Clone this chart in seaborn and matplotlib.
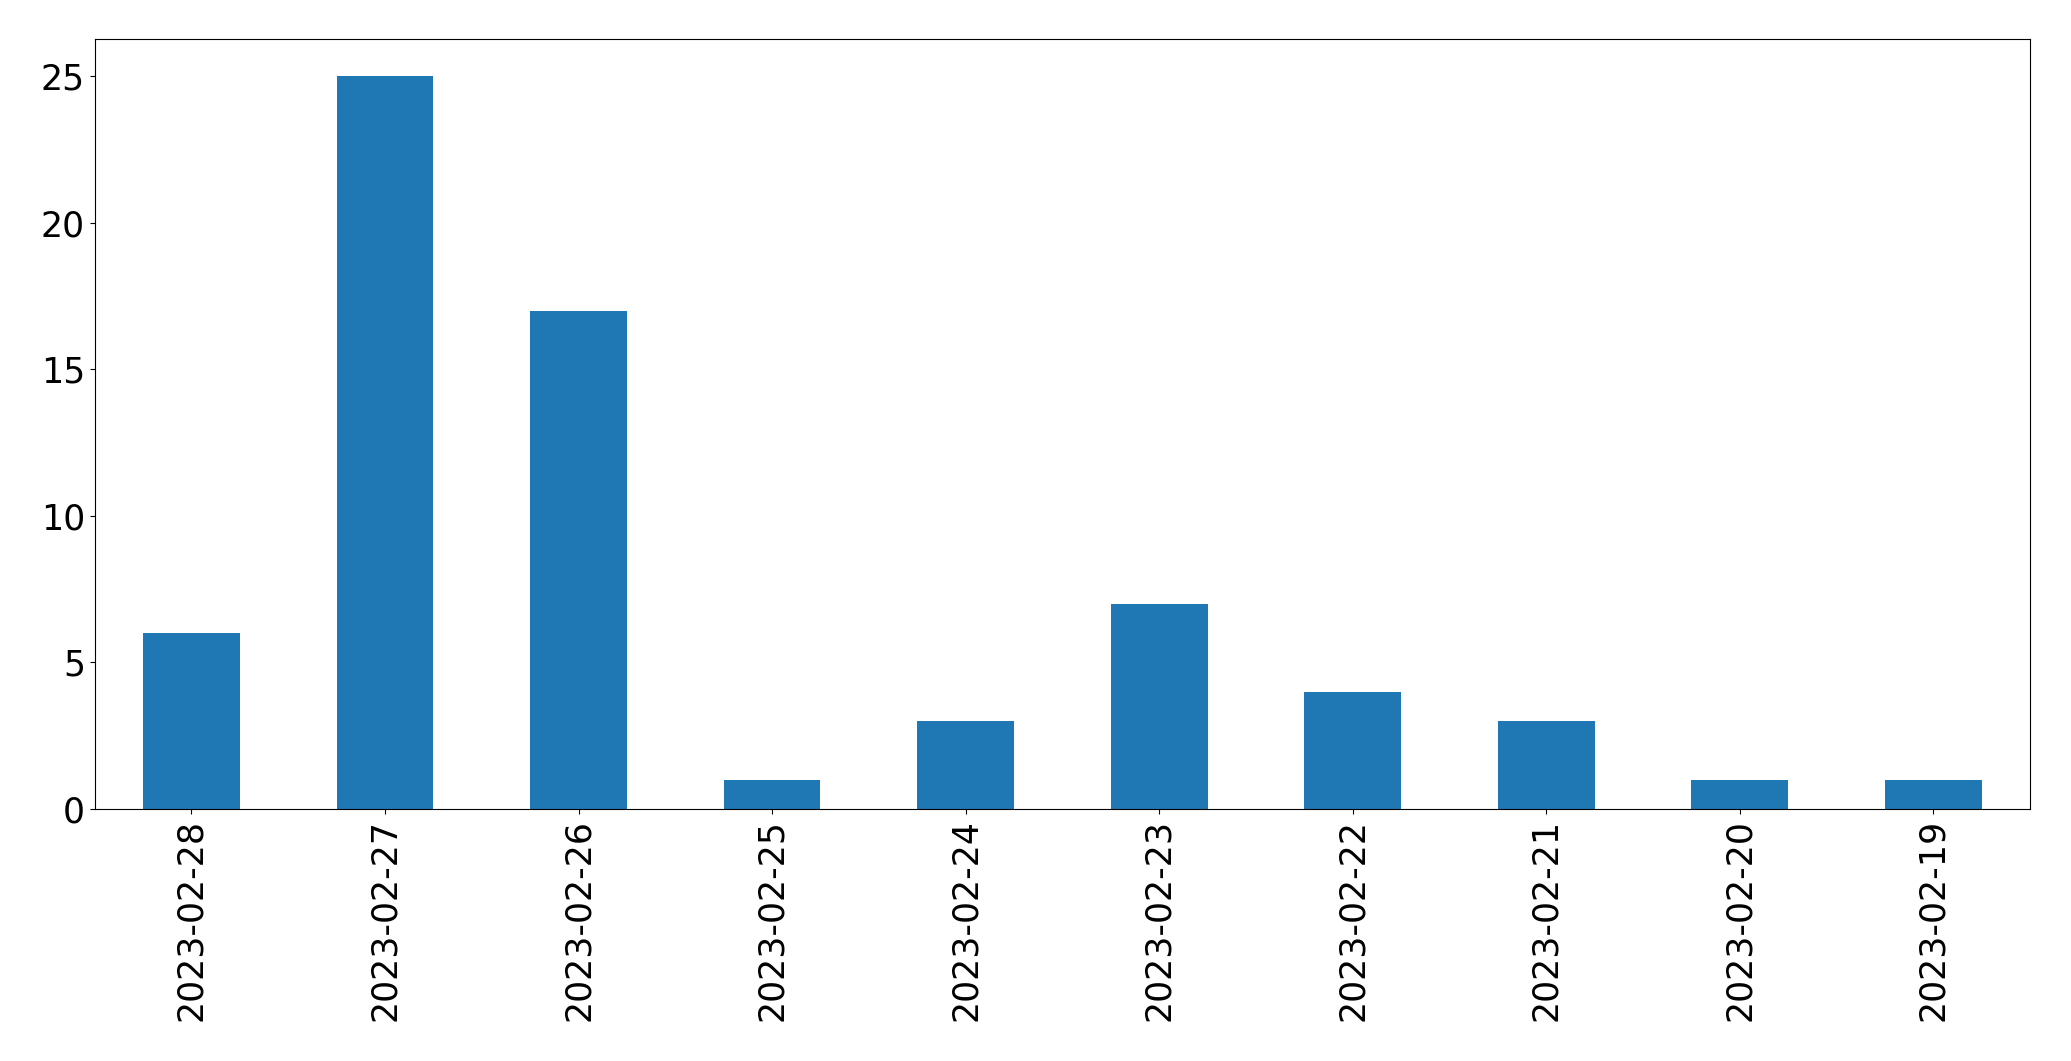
import matplotlib
matplotlib.use('Agg')
import matplotlib.pyplot as plt
import pandas as pd
import seaborn as sns

dates = ['2023-02-28', '2023-02-27', '2023-02-26', '2023-02-25', '2023-02-24',
         '2023-02-23', '2023-02-22', '2023-02-21', '2023-02-20', '2023-02-19']
counts = [6, 25, 17, 1, 3, 7, 4, 3, 1, 1]

df = pd.DataFrame({'date': dates, 'count': counts})

fig, ax = plt.subplots(figsize=(20.71, 10.61), dpi=100)
sns.barplot(data=df, x='date', y='count', order=dates, color='#1f77b4',
            saturation=1, width=0.5, ax=ax)
ax.set_xlabel('')
ax.set_ylabel('')
ax.set_xlim(-0.5, len(dates) - 0.5)
ax.set_yticks([0, 5, 10, 15, 20, 25])
ax.tick_params(axis='both', labelsize=25)
ax.tick_params(axis='x', rotation=90)
fig.subplots_adjust(left=0.0457, right=0.9803, top=0.963, bottom=0.2375)
fig.savefig('out.png', dpi=100)
